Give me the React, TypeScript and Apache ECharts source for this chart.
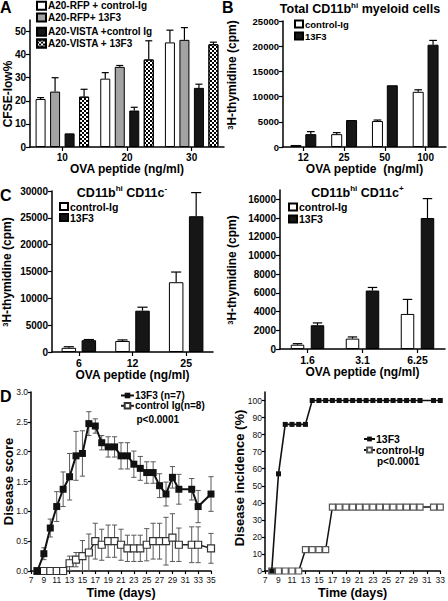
import React, { useEffect, useRef } from "react";
import * as echarts from "echarts";

const FONT = "'Liberation Sans', Arial, Helvetica, sans-serif";

// ---------- Panel A ----------
const aCategories = ["10", "20", "30"];
const aNames = ["A20-RFP + control-Ig", "A20-RFP+ 13F3", "A20-VISTA +control Ig", "A20-VISTA + 13F3"];
const aRfpCtrl = [20.8, 29.6, 45.3];
const aRfpCtrlErr = [0.6, 2.6, 5.3];
const aRfp13F3 = [24.0, 34.7, 46.4];
const aRfp13F3Err = [6.0, 0.6, 5.3];
const aVistaCtrl = [5.9, 15.8, 25.6];
const aVistaCtrlErr = [0, 1.4, 1.6];
const aVista13F3 = [21.8, 37.9, 44.5];
const aVista13F3Err = [3.2, 8.1, 0.9];

// ---------- Panel B ----------
const bCategories = ["12", "25", "50", "100"];
const bCtrl = [400, 2550, 5150, 10950];
const bCtrlErr = [0, 300, 200, 400];
const b13F3 = [2550, 5350, 12250, 20300];
const b13F3Err = [500, 0, 0, 850];

// ---------- Panel C (left) ----------
const c1Categories = ["6", "12", "25"];
const c1Ctrl = [780, 2050, 13000];
const c1CtrlErr = [200, 200, 1900];
const c113F3 = [2200, 7700, 25300];
const c113F3Err = [120, 650, 4400];

// ---------- Panel C (right) ----------
const c2Categories = ["1.6", "3.1", "6.25"];
const c2Ctrl = [460, 1110, 3750];
const c2CtrlErr = [110, 180, 1550];
const c213F3 = [2540, 6250, 14000];
const c213F3Err = [250, 330, 2080];

// ---------- Panel D (left): disease score ----------
const dScoreDays = [8, 9, 10, 11, 12, 13, 14, 15, 16, 17, 18, 19, 20, 21, 22, 23, 24, 25, 26, 27, 28, 29, 30, 32, 33, 35];
const dScore13F3 = [0, 0.29, 0.72, 1.08, 1.37, 1.58, 1.93, 1.97, 2.47, 2.43, 2.15, 2.08, 2.08, 1.93, 1.93, 1.79, 1.72, 1.65, 1.65, 1.43, 1.29, 1.57, 1.37, 1.37, 1.08, 1.29];
const dScore13F3Err = [0, 0.1, 0.15, 0.25, 0.29, 0.39, 0.41, 0.38, 0.2, 0.12, 0.12, 0.17, 0.17, 0.22, 0.22, 0.22, 0.2, 0.18, 0.18, 0.2, 0.2, 0.18, 0.25, 0.18, 0.27, 0.29];
const dScoreCtrl = [0, 0, 0, 0, 0, 0.13, 0.19, 0.25, 0.31, 0.5, 0.44, 0.5, 0.5, 0.44, 0.38, 0.38, 0.38, 0.44, 0.5, 0.5, 0.5, 0.56, 0.44, 0.44, 0.44, 0.38];
const dScoreCtrlErr = [0, 0, 0, 0, 0, 0.12, 0.12, 0.26, 0.31, 0.3, 0.26, 0.27, 0.27, 0.26, 0.22, 0.22, 0.22, 0.27, 0.3, 0.3, 0.4, 0.4, 0.28, 0.3, 0.3, 0.25];

// ---------- Panel D (right): disease incidence ----------
const dIncDays = [8, 9, 10, 11, 12, 13, 14, 15, 16, 17, 18, 19, 20, 21, 22, 23, 24, 25, 26, 27, 28, 29, 30, 32, 33];
const dInc13F3 = [0, 57, 86, 86, 86, 86, 100, 100, 100, 100, 100, 100, 100, 100, 100, 100, 100, 100, 100, 100, 100, 100, 100, 100, 100];
const dIncCtrl = [0, 0, 0, 0, 0, 12.5, 12.5, 12.5, 12.5, 37.5, 37.5, 37.5, 37.5, 37.5, 37.5, 37.5, 37.5, 37.5, 37.5, 37.5, 37.5, 37.5, 37.5, 37.5, 37.5];

const boldText = (size: number) => ({ fontSize: size, fontWeight: "bold" as const, color: "#000", fontFamily: FONT });

const ctrlStyle = { color: "#ffffff", borderColor: "#000", borderWidth: 1 };
const blackStyle = { color: "#161616", borderColor: "#000", borderWidth: 1 };
const grayStyle = { color: "#a3a3a3", borderColor: "#000", borderWidth: 1 };
const checkerStyle = {
  color: "#ffffff",
  borderColor: "#000",
  borderWidth: 1,
  decal: { symbol: "rect", symbolSize: 1, color: "#000", dashArrayX: [[2, 2], [0, 2, 2, 0]], dashArrayY: [2, 0], rotation: 0 },
};

function barSeries(name: string, data: number[], idx: number, style: any, bw: number, gap: number) {
  return {
    type: "bar",
    name,
    xAxisIndex: idx,
    yAxisIndex: idx,
    data,
    barWidth: bw,
    barGap: `${gap * 100}%`,
    itemStyle: style,
    z: 2,
  };
}

function barErrors(idx: number, groups: { v: number[]; e: number[] }[], bw: number, gap: number) {
  const n = groups.length;
  const data: number[][] = [];
  groups.forEach((g, si) => g.v.forEach((v, ci) => data.push([ci, v, g.e[ci], si])));
  return {
    type: "custom",
    xAxisIndex: idx,
    yAxisIndex: idx,
    silent: true,
    z: 3,
    data,
    encode: { x: 0, y: 1 },
    renderItem: (_p: any, api: any) => {
      const ci = api.value(0);
      const v = api.value(1);
      const e = api.value(2);
      const si = api.value(3);
      if (!e) return { type: "group", children: [] };
      const total = n * bw + (n - 1) * gap * bw;
      const off = -total / 2 + bw / 2 + si * bw * (1 + gap);
      const base = api.coord([ci, v]);
      const top = api.coord([ci, v + e]);
      const x = base[0] + off;
      const cap = bw * 0.35;
      const st = { stroke: "#000", lineWidth: 1.2 };
      return {
        type: "group",
        children: [
          { type: "line", shape: { x1: x, y1: base[1], x2: x, y2: top[1] }, style: st },
          { type: "line", shape: { x1: x - cap, y1: top[1], x2: x + cap, y2: top[1] }, style: st },
        ],
      };
    },
  };
}

function lineErrors(idx: number, days: number[], v: number[], e: number[]) {
  return {
    type: "custom",
    xAxisIndex: idx,
    yAxisIndex: idx,
    silent: true,
    z: 3,
    data: days.map((d, i) => [d, v[i], e[i]]),
    encode: { x: 0, y: 1 },
    renderItem: (_p: any, api: any) => {
      const x = api.value(0);
      const val = api.value(1);
      const err = api.value(2);
      if (!err) return { type: "group", children: [] };
      const lo = api.coord([x, Math.max(0, val - err)]);
      const hi = api.coord([x, val + err]);
      const c = 2.6;
      const st = { stroke: "#5a5a5a", lineWidth: 1 };
      return {
        type: "group",
        children: [
          { type: "line", shape: { x1: hi[0], y1: hi[1], x2: lo[0], y2: lo[1] }, style: st },
          { type: "line", shape: { x1: hi[0] - c, y1: hi[1], x2: hi[0] + c, y2: hi[1] }, style: st },
          { type: "line", shape: { x1: lo[0] - c, y1: lo[1], x2: lo[0] + c, y2: lo[1] }, style: st },
        ],
      };
    },
  };
}

const axisLine = { show: true, lineStyle: { color: "#000", width: 1.5 } };
const axisTick = { show: true, length: 4, lineStyle: { color: "#000", width: 1.2 } };

function catX(idx: number, data: string[], name: string, gap: number, labelSize: number) {
  return {
    type: "category",
    gridIndex: idx,
    data,
    axisLine,
    axisTick: { ...axisTick, alignWithLabel: true },
    axisLabel: { ...boldText(labelSize), margin: 5 },
    name,
    nameLocation: "middle",
    nameGap: gap,
    nameTextStyle: boldText(12),
  };
}

function valY(idx: number, max: number, interval: number, labelSize: number, showMax: boolean) {
  return {
    type: "value",
    gridIndex: idx,
    min: 0,
    max,
    interval,
    axisLine,
    axisTick,
    splitLine: { show: false },
    axisLabel: { ...boldText(labelSize), margin: 4, showMaxLabel: showMax, formatter: (v: number) => String(v) },
  };
}

function dX(idx: number, max: number) {
  return {
    type: "value",
    gridIndex: idx,
    min: 7,
    max,
    interval: 2,
    axisLine,
    axisTick: { ...axisTick, length: 3 },
    splitLine: { show: false },
    axisLabel: { fontSize: 8.5, color: "#111", fontFamily: FONT, margin: 4, showMaxLabel: true },
    name: "Time (days)",
    nameLocation: "middle",
    nameGap: 15,
    nameTextStyle: boldText(12.5),
  };
}

function dY(idx: number, max: number, interval: number, fmt: (v: number) => string, showMax: boolean) {
  return {
    type: "value",
    gridIndex: idx,
    min: 0,
    max,
    interval,
    axisLine,
    axisTick: { ...axisTick, length: 3 },
    splitLine: { show: false },
    axisLabel: { fontSize: 8.5, color: "#111", fontFamily: FONT, margin: 3, showMaxLabel: showMax, formatter: fmt },
  };
}

function barLegend(names: string[], left: number, top: number, size: number, lh: number, iw = 8, ih = 7) {
  return {
    data: names,
    left,
    top,
    orient: "vertical",
    padding: 0,
    itemGap: 0,
    itemWidth: iw,
    itemHeight: ih,
    icon: "rect",
    selectedMode: false,
    textStyle: { ...boldText(size), lineHeight: lh, padding: [0, 0, 0, -3] },
  };
}

const sup = { fontSize: 8, fontWeight: "bold", fontFamily: FONT, fill: "#000", verticalAlign: "top", lineHeight: 9 };

function title(x: number, y: number, text: string, size: number) {
  return {
    type: "text",
    x,
    y,
    silent: true,
    style: {
      text,
      align: "center",
      verticalAlign: "middle",
      fontSize: size,
      fontWeight: "bold",
      fontFamily: FONT,
      fill: "#000",
      lineHeight: size + 3,
      rich: { sup: { ...sup }, base: { fontSize: size, fontWeight: "bold", fontFamily: FONT, fill: "#000", lineHeight: size + 3 } },
    },
  };
}

function yName(x: number, y: number, text: string, size: number) {
  return {
    type: "text",
    x,
    y,
    rotation: Math.PI / 2,
    silent: true,
    style: {
      text,
      align: "center",
      verticalAlign: "middle",
      fontSize: size,
      fontWeight: "bold",
      fontFamily: FONT,
      fill: "#000",
      lineHeight: size + 3,
      rich: {
        sup: { ...sup, lineHeight: size + 3, fontSize: 7.5, padding: [0, 0, 5, 0], verticalAlign: "bottom" },
        base: { fontSize: size, fontWeight: "bold", fontFamily: FONT, fill: "#000", lineHeight: size + 3 },
      },
    },
  };
}

function plainText(x: number, y: number, text: string, size: number, weight: any = "bold", align = "left") {
  return {
    type: "text",
    x,
    y,
    silent: true,
    style: { text, align, verticalAlign: "middle", fontSize: size, fontWeight: weight, fontFamily: FONT, fill: "#000" },
  };
}

export default function App() {
  const ref = useRef<HTMLDivElement>(null);
  useEffect(() => {
    if (!ref.current) return;
    const chart = echarts.init(ref.current, undefined, { renderer: "svg" });

    const A = { bw: 10, gap: 0.45 };
    const B = { bw: 11, gap: 0.35 };
    const C1 = { bw: 14.5, gap: 0.38 };
    const C2 = { bw: 13.5, gap: 0.48 };

    const option: any = {
      animation: false,
      backgroundColor: "#ffffff",
      textStyle: { fontFamily: FONT },
      grid: [
        { left: 30, top: 20, width: 194, height: 127 },
        { left: 283, top: 21, width: 163, height: 126 },
        { left: 52, top: 191, width: 161, height: 161 },
        { left: 280, top: 190, width: 165, height: 159 },
        { left: 31, top: 392, width: 180, height: 179 },
        { left: 265, top: 392, width: 178, height: 179 },
      ],
      xAxis: [
        catX(0, aCategories, "OVA peptide (ng/ml)", 16, 10),
        catX(1, bCategories, "OVA peptide  (ng/ml)", 16, 10),
        catX(2, c1Categories, "OVA peptide (ng/ml)", 14, 10.5),
        catX(3, c2Categories, "OVA peptide (ng/ml)", 16.5, 10.5),
        dX(4, 35),
        dX(5, 33),
      ],
      yAxis: [
        valY(0, 55, 10, 10, false),
        valY(1, 25000, 5000, 9.5, true),
        valY(2, 30000, 5000, 10, true),
        valY(3, 17000, 2000, 10, false),
        dY(4, 3, 0.5, (v: number) => v.toFixed(1), true),
        dY(5, 105, 10, (v: number) => String(v), false),
      ],
      legend: [
        barLegend([aNames[0], aNames[1]], 36, 0, 10, 11.7, 9, 8),
        barLegend([aNames[2], aNames[3]], 36, 26, 10, 11.7, 9, 8),
        barLegend(["control-Ig", "13F3"], 294, 18, 9.5, 12),
        barLegend(["control-Ig", "13F3"], 59, 201, 10.5, 11),
        barLegend(["control-Ig", "13F3"], 288, 201, 10.5, 12),
        {
          data: ["13F3 (n=7)", "control Ig(n=8)"],
          left: 120,
          top: 390.5,
          orient: "vertical",
          padding: 0,
          itemGap: 0.3,
          itemWidth: 13,
          itemHeight: 7,
          selectedMode: false,
          textStyle: { ...boldText(10), lineHeight: 10, padding: [0, 0, 0, -4] },
        },
        {
          data: ["13F3 incidence", "control-Ig incidence"],
          formatter: (n: string) => n.replace(" incidence", ""),
          left: 363,
          top: 433.5,
          orient: "vertical",
          padding: 0,
          itemGap: 0,
          itemWidth: 11,
          itemHeight: 6,
          selectedMode: false,
          textStyle: { ...boldText(10.5), lineHeight: 11, padding: [0, 0, 0, -4] },
        },
      ],
      series: [
        barSeries(aNames[0], aRfpCtrl, 0, ctrlStyle, A.bw, A.gap),
        barSeries(aNames[1], aRfp13F3, 0, grayStyle, A.bw, A.gap),
        barSeries(aNames[2], aVistaCtrl, 0, blackStyle, A.bw, A.gap),
        barSeries(aNames[3], aVista13F3, 0, checkerStyle, A.bw, A.gap),
        barErrors(0, [
          { v: aRfpCtrl, e: aRfpCtrlErr },
          { v: aRfp13F3, e: aRfp13F3Err },
          { v: aVistaCtrl, e: aVistaCtrlErr },
          { v: aVista13F3, e: aVista13F3Err },
        ], A.bw, A.gap),

        barSeries("control-Ig", bCtrl, 1, ctrlStyle, B.bw, B.gap),
        barSeries("13F3", b13F3, 1, blackStyle, B.bw, B.gap),
        barErrors(1, [{ v: bCtrl, e: bCtrlErr }, { v: b13F3, e: b13F3Err }], B.bw, B.gap),

        barSeries("control-Ig", c1Ctrl, 2, ctrlStyle, C1.bw, C1.gap),
        barSeries("13F3", c113F3, 2, blackStyle, C1.bw, C1.gap),
        barErrors(2, [{ v: c1Ctrl, e: c1CtrlErr }, { v: c113F3, e: c113F3Err }], C1.bw, C1.gap),

        barSeries("control-Ig", c2Ctrl, 3, ctrlStyle, C2.bw, C2.gap),
        barSeries("13F3", c213F3, 3, blackStyle, C2.bw, C2.gap),
        barErrors(3, [{ v: c2Ctrl, e: c2CtrlErr }, { v: c213F3, e: c213F3Err }], C2.bw, C2.gap),

        lineErrors(4, dScoreDays, dScore13F3, dScore13F3Err),
        lineErrors(4, dScoreDays, dScoreCtrl, dScoreCtrlErr),
        {
          type: "line",
          name: "control Ig(n=8)",
          xAxisIndex: 4,
          yAxisIndex: 4,
          data: dScoreDays.map((d, i) => [d, dScoreCtrl[i]]),
          symbol: "rect",
          symbolSize: 7,
          itemStyle: { color: "#ffffff", borderColor: "#333", borderWidth: 1.2 },
          lineStyle: { color: "#222", width: 1.5 },
          z: 5,
        },
        {
          type: "line",
          name: "13F3 (n=7)",
          xAxisIndex: 4,
          yAxisIndex: 4,
          data: dScoreDays.map((d, i) => [d, dScore13F3[i]]),
          symbol: "rect",
          symbolSize: 7,
          itemStyle: { color: "#111" },
          lineStyle: { color: "#111", width: 2 },
          z: 6,
        },
        {
          type: "line",
          name: "control-Ig incidence",
          xAxisIndex: 5,
          yAxisIndex: 5,
          data: dIncDays.map((d, i) => [d, dIncCtrl[i]]),
          symbol: "rect",
          symbolSize: 6,
          itemStyle: { color: "#ffffff", borderColor: "#555", borderWidth: 1.2 },
          lineStyle: { color: "#111", width: 1.5 },
          z: 5,
        },
        {
          type: "line",
          name: "13F3 incidence",
          xAxisIndex: 5,
          yAxisIndex: 5,
          data: dIncDays.map((d, i) => [d, dInc13F3[i]]),
          symbol: "rect",
          symbolSize: 5,
          itemStyle: { color: "#111" },
          lineStyle: { color: "#111", width: 1.6 },
          z: 6,
        },
      ],
      graphic: [
        plainText(0, 7.5, "A", 16),
        plainText(222, 7.5, "B", 16),
        plainText(0, 195, "C", 16),
        plainText(0, 396, "D", 16),
        title(360, 9, "{base|Total CD11b}{sup|hi}{base| myeloid cells}", 12.5),
        title(122, 192.5, "{base|CD11b}{sup|hi}{base| CD11c}{sup|-}", 12.5),
        title(357.5, 192.5, "{base|CD11b}{sup|hi}{base| CD11c}{sup|+}", 12.5),
        yName(8, 94, "CFSE-low%", 12),
        yName(232, 75, "{sup|3}{base|H-thymidine (cpm)}", 12),
        yName(7, 272, "{sup|3}{base|H-thymidine (cpm)}", 12),
        yName(232, 270, "{sup|3}{base|H-thymidine (cpm)}", 12),
        yName(8, 481.5, "Disease score", 13),
        yName(239, 478, "Disease incidence (%)", 13),
        plainText(136.5, 419.5, "p<0.0001", 10),
        plainText(377, 461, "p<0.0001", 10),
      ],
    };
    chart.setOption(option);
    return () => chart.dispose();
  }, []);
  return <div ref={ref} style={{ position: "absolute", left: 0, top: 0, width: 448, height: 601 }} />;
}
